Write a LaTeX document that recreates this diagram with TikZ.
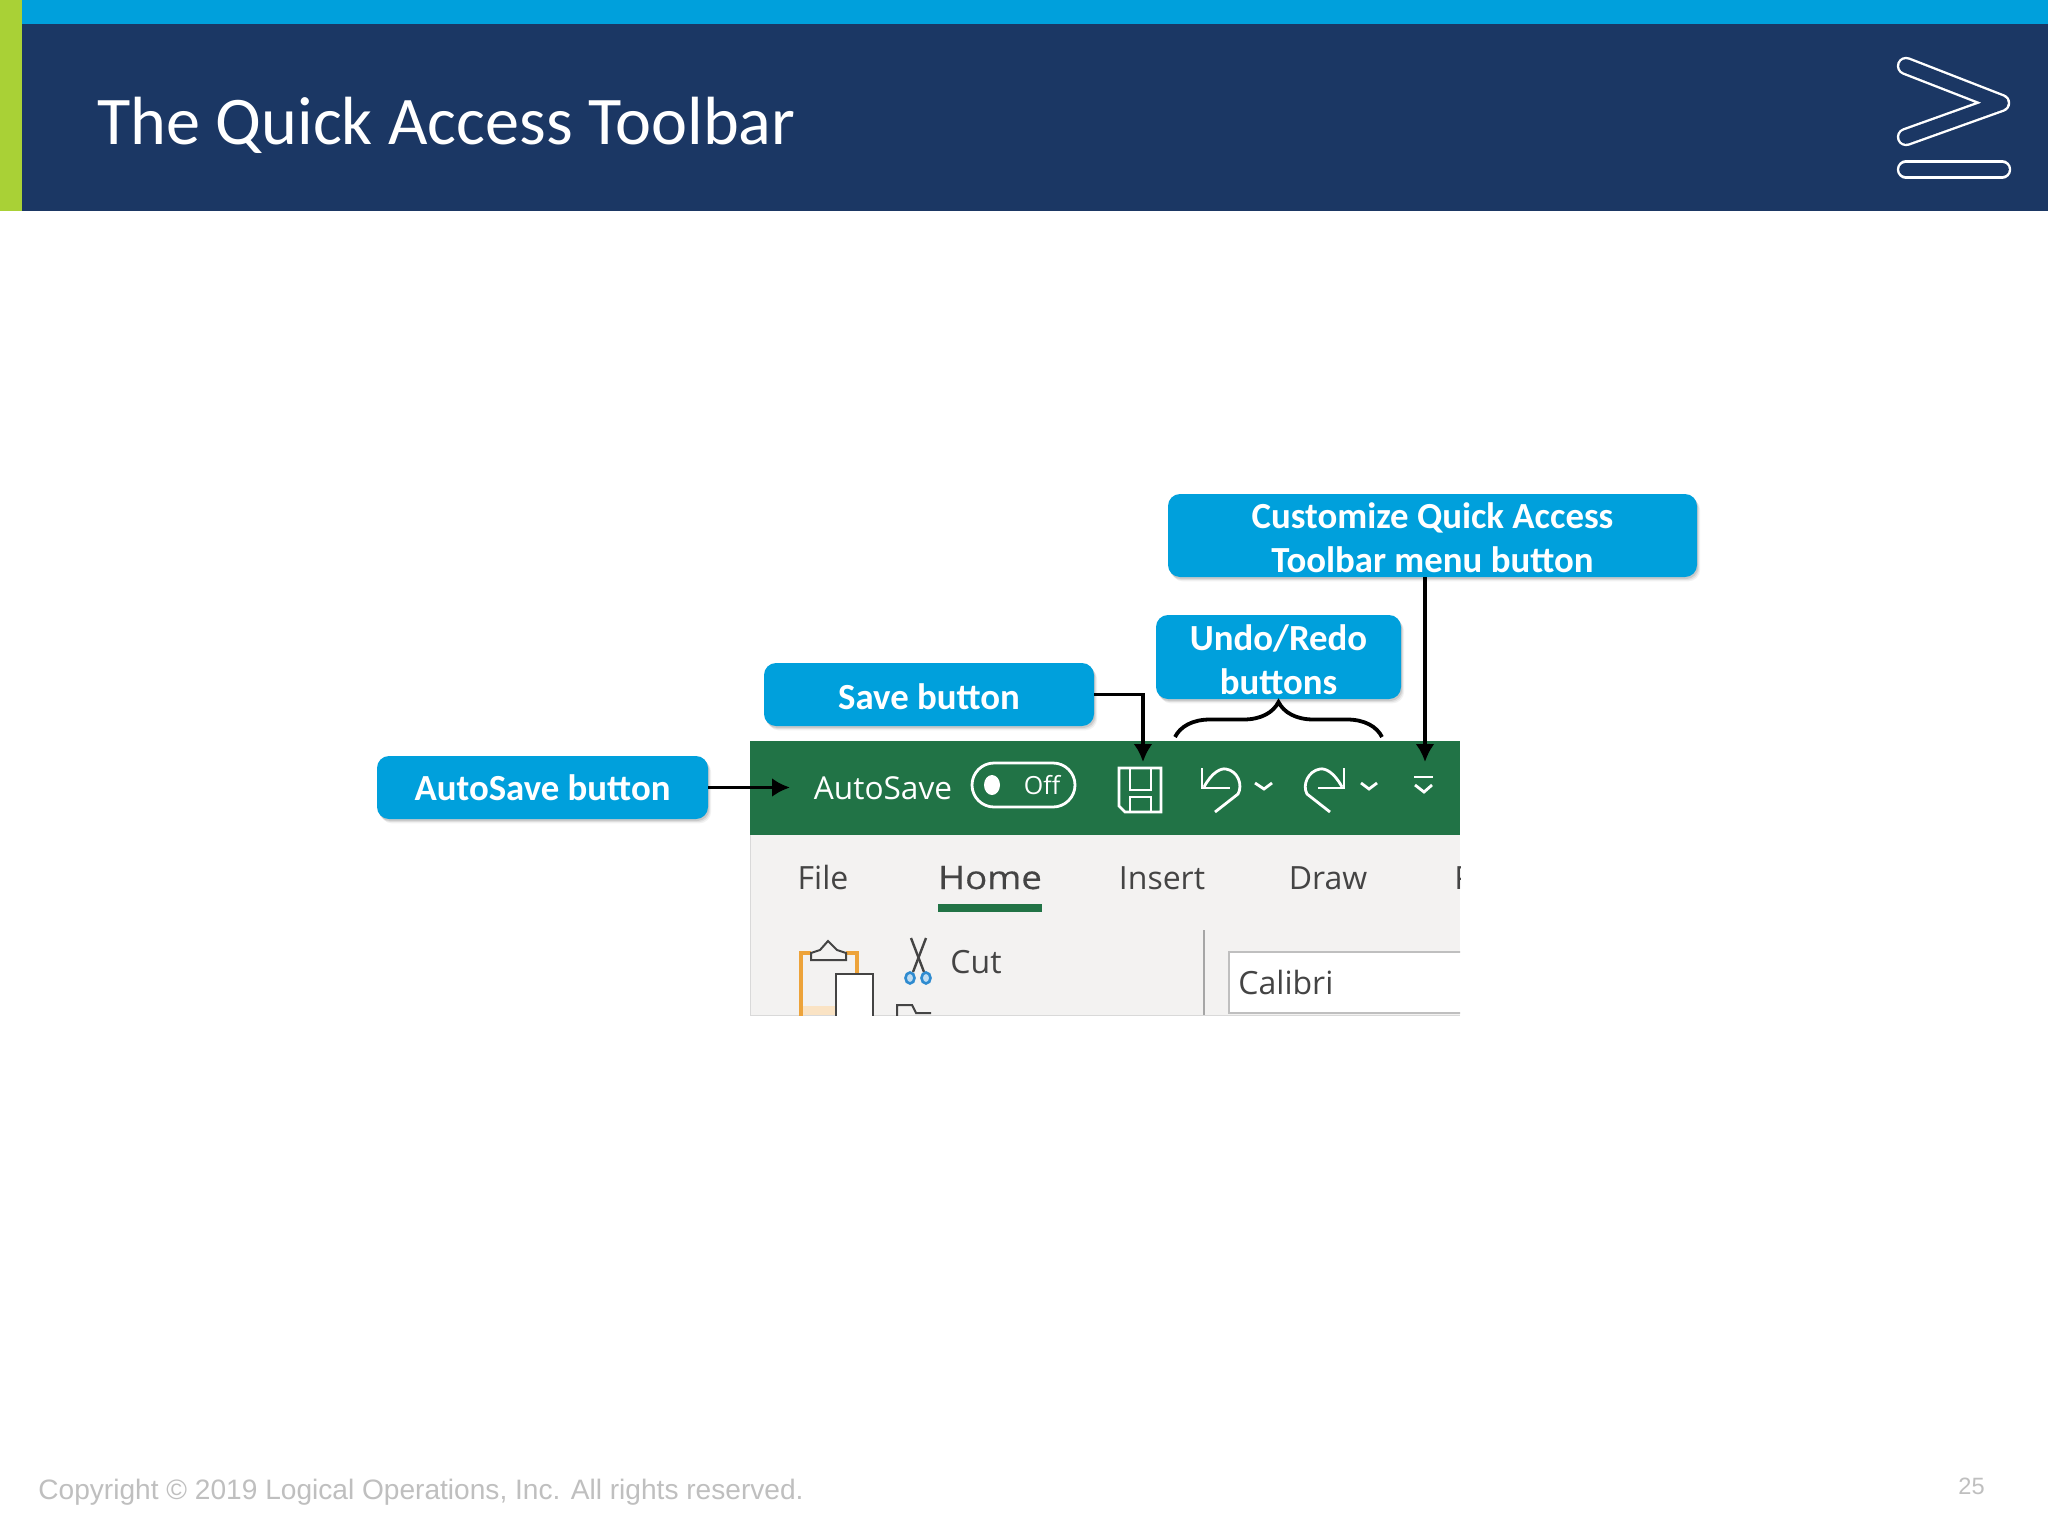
\documentclass[tikz,border=0pt]{standalone}
\usepackage{fontspec}
\setmainfont{Carlito}
\newfontfamily\uifont{Open Sans}
\newfontfamily\uifontheavy[FakeBold=0.4,FakeStretch=1.13]{Open Sans}
\newfontfamily\footfont{Liberation Sans}
\usetikzlibrary{arrows.meta,shadows,decorations.pathreplacing}
\definecolor{navybar}{HTML}{1B3764}
\definecolor{bluebar}{HTML}{00A0DC}
\definecolor{limebar}{HTML}{A9D136}
\definecolor{excelgreen}{HTML}{217346}
\definecolor{ribbongrey}{HTML}{F3F2F1}
\definecolor{ribbontext}{HTML}{444444}
\definecolor{footgrey}{HTML}{BFBFBF}
\definecolor{scissorblue}{HTML}{2E8BD0}
\definecolor{clipboardorange}{HTML}{EDA33A}
\newcommand{\calloutstrut}{\rule{0pt}{15.5pt}}
\tikzset{
	callout/.style={fill=bluebar,rounded corners=6pt,text=white,align=center,inner sep=0pt,
		font=\fontsize{18.4}{22}\selectfont\bfseries,
		general shadow={shadow xshift=1.6pt,shadow yshift=-2.2pt,fill=black,opacity=0.05},
		general shadow={shadow xshift=1.1pt,shadow yshift=-1.6pt,fill=black,opacity=0.07},
		general shadow={shadow xshift=0.6pt,shadow yshift=-1pt,fill=black,opacity=0.1}},
	pointer/.style={line width=1.9pt,-{Latex[length=9pt,width=9.5pt]}},
	icon/.style={draw=white,line width=1.4pt},
	ribbonlabel/.style={anchor=base,text=ribbontext,inner sep=0pt,font=\uifont\fontsize{16}{18}\selectfont},
	barlabel/.style={anchor=base,text=white,inner sep=0pt},
}
\begin{document}
\begin{tikzpicture}[x=0.5pt,y=-0.5pt]
	\useasboundingbox (0,0) rectangle (2048,1536);
	\fill [white] (0,0) rectangle (2048,1536);
	\fill [navybar] (0,24) rectangle (2048,211);
	\fill [bluebar] (0,0) rectangle (2048,24);
	\fill [limebar] (0,0) rectangle (22,211);
	\node [anchor=base west,text=white,inner sep=0pt,font=\fontsize{34.1}{40}\selectfont] (title) at (97,144) {The Quick Access Toolbar};
	\draw [white,double=navybar,double distance=6.8pt,line width=1.2pt,line cap=round,line join=round] (1906,66) -- (2001,103) -- (1906,137);
	\draw [white,double=navybar,double distance=6.8pt,line width=1.2pt,line cap=round] (1906,169.5) -- (2002,169.5);

	\fill [ribbongrey] (750,835) rectangle (1460,1015);
	\draw [gray!30,line width=0.5pt] (750,835) -- (750,1015) -- (1460,1015);
	\fill [excelgreen] (750,741) rectangle (1460,835);
	\node [barlabel,font=\uifont\fontsize{15.8}{18}\selectfont] (autosavelabel) at (883,799) {AutoSave};
	\draw [icon,rounded corners=11pt] (972,763) rectangle (1075,807);
	\fill [white] (992,785) ellipse (8 and 10);
	\node [barlabel,font=\uifont\fontsize{12.5}{14}\selectfont] (offlabel) at (1042,794) {Off};
	\draw [icon] (1125,812) -- (1119,806) -- (1119,768) -- (1161,768) -- (1161,812) -- cycle;
	\draw [icon] (1130,768) -- (1130,790) -- (1151,790) -- (1151,768);
	\draw [icon] (1130,812) -- (1130,797) -- (1151,797) -- (1151,812);
	\draw [icon] (1202,768) -- (1202,788) -- (1230,788);
	\draw [icon] (1204,787) .. controls (1212,772) and (1221,768) .. (1226,769) .. controls (1238,771) and (1243,785) .. (1238,794) -- (1215,812);
	\draw [icon] (1255,783) -- (1264,789) -- (1272,783);
	\draw [icon] (1344,768) -- (1344,788) -- (1318,788);
	\draw [icon] (1342,787) .. controls (1334,772) and (1325,768) .. (1320,769) .. controls (1308,771) and (1302,785) .. (1307,794) -- (1330,812);
	\draw [icon] (1361,783) -- (1369,789) -- (1377,783);
	\draw [icon] (1414,777) -- (1433,777);
	\draw [icon] (1415,785) -- (1424,792) -- (1432,785);

	\begin{scope}
		\clip (750,835) rectangle (1460,1015);
		\node [ribbonlabel] (filetab) at (823,889) {File};
		\node [ribbonlabel,font=\uifontheavy\fontsize{16.2}{18}\selectfont] (hometab) at (990,889) {Home};
		\node [ribbonlabel] (inserttab) at (1162,889) {Insert};
		\node [ribbonlabel] (drawtab) at (1328,889) {Draw};
		\node [ribbonlabel,anchor=base west] (pagetab) at (1454,889) {Page};
		\fill [excelgreen] (938,904) rectangle (1042,912);
		\draw [gray!70,line width=1pt] (1204,930) -- (1204,1015);
		\draw [black!25,fill=white,line width=1.3pt] (1229,952) rectangle (1480,1013);
		\node [ribbonlabel,anchor=base west] (fontbox) at (1238,994) {Calibri};
		\node [ribbonlabel,anchor=base west] (cutlabel) at (950,973) {Cut};
		\fill [clipboardorange!30] (801,1006) rectangle (836,1015);
		\draw [clipboardorange,line width=1.8pt] (801,1020) -- (801,953) -- (811,953);
		\draw [clipboardorange,line width=1.8pt] (846,953) -- (857,953) -- (857,974);
		\draw [ribbontext,fill=ribbongrey,line width=1pt] (811,960) -- (811,953) -- (820,950) -- (828,941) -- (837,950) -- (846,953) -- (846,960) -- cycle;
		\draw [ribbontext,fill=white,line width=1pt] (836,1020) -- (836,974) -- (873,974) -- (873,1020);
		\draw [ribbontext,line width=1.2pt] (911,938) -- (924,972);
		\draw [ribbontext,line width=1.2pt] (926,938) -- (913,972);
		\draw [scissorblue,fill=scissorblue!30,line width=1.3pt] (910,978) ellipse (4.5 and 5.5);
		\draw [scissorblue,fill=scissorblue!30,line width=1.3pt] (926,978) ellipse (4.5 and 5.5);
		\draw [ribbontext,line width=1pt] (897,1018) -- (897,1005) -- (912,1005) -- (916,1013) -- (931,1013);
	\end{scope}

	\node [callout,minimum width=165.5pt,minimum height=31.5pt] (autosavebox) at (542.5,787.5) {AutoSave button};
	\node [callout,minimum width=165pt,minimum height=31.5pt] (savebox) at (929,694.5) {\calloutstrut Save button};
	\node [callout,minimum width=122.5pt,minimum height=42pt] (undobox) at (1278.5,657) {\calloutstrut Undo/Redo\\buttons};
	\node [callout,minimum width=264.5pt,minimum height=41.5pt] (customizebox) at (1432.5,535.5) {\calloutstrut Customize Quick Access\\Toolbar menu button};

	\coordinate (autosavetip) at (790,787.5);
	\coordinate (savetip) at (1143,762);
	\coordinate (customizetip) at (1425,762);
	\coordinate (braceleft) at (1175,737);
	\coordinate (braceright) at (1382,737);

	\draw [pointer] (autosavebox.east) -- (autosavetip);
	\draw [pointer] (savebox.east) -| (savetip);
	\draw [pointer] (customizetip |- customizebox.south) -- (customizetip);
	\draw [line width=1.9pt,decorate,decoration={brace,amplitude=17.5pt}] (braceleft) -- (braceright);

	\node [anchor=base west,text=footgrey,inner sep=0pt,font=\footfont\fontsize{14.05}{16}\selectfont] (copyright) at (38,1499) {Copyright © 2019 Logical Operations, Inc. All rights reserved.};
	\node [anchor=base east,text=footgrey,inner sep=0pt,font=\footfont\fontsize{11.8}{14}\selectfont] (pagenumber) at (1985,1494) {25};
\end{tikzpicture}
\end{document}
